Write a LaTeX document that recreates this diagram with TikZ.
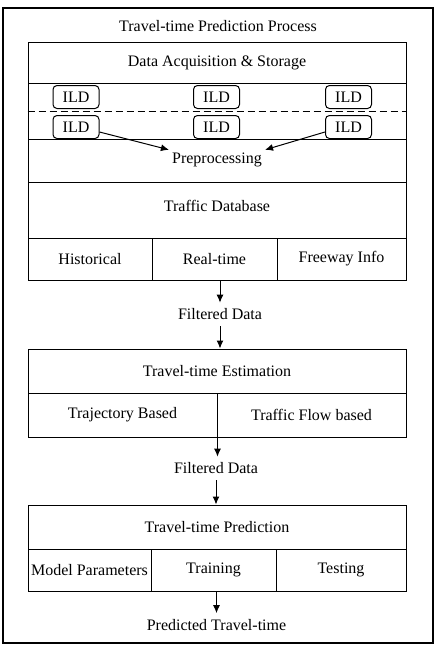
\documentclass[tikz,border=0pt]{standalone}
\usepackage{fontspec}
\setmainfont{Liberation Serif}
\usetikzlibrary{positioning, arrows.meta}

\begin{document}
\begin{tikzpicture}[
    x=1pt, y=-1pt, >={Latex[length=8pt,width=7pt]},
    font=\fontsize{16pt}{19pt}\selectfont,
    every node/.style={inner sep=1pt},
    row/.style={draw, line width=1pt, minimum width=378pt, minimum height=#1},
    cell/.style={draw, line width=1pt, minimum height=42pt, minimum width=#1},
    ild/.style={draw, line width=1pt, rounded corners=4pt, minimum width=46pt, minimum height=23pt},
    txt/.style={inner xsep=3pt, inner ysep=6pt},
    flow/.style={->, line width=1pt}
]
    \useasboundingbox (0,0) rectangle (440,646);
    \draw[line width=1.3pt] (3,8) rectangle (433,643);
    \node (title) at (218,26) {Travel-time Prediction Process};

    % data acquisition and storage
    \node[row=41pt] (acq) at (217,62.5) {Data Acquisition \& Storage};
    \node[row=56pt] (sensors) at (217,111) {};
    \draw[line width=1pt, dash pattern=on 7pt off 4pt] (sensors.west) -- (sensors.east);

    \node[ild] (ild1) at (76,97)    {ILD};
    \node[ild] (ild2) at (216.5,97) {ILD};
    \node[ild] (ild3) at (348.5,97) {ILD};
    \node[ild, below=6pt of ild1] (ild4) {ILD};
    \node[ild, below=6pt of ild2] (ild5) {ILD};
    \node[ild, below=6pt of ild3] (ild6) {ILD};

    \node[row=43pt] (prepbox) at (217,160.5) {};
    \node[inner sep=3pt] (prep) at (217,160) {Preprocessing};
    \draw[flow] (ild4.-12) -- (prep.north west);
    \draw[flow] (ild6.192) -- (prep.north east);

    \node[row=56pt] (db) at (217,210) {};
    \node (dbtext) at (217,205.5) {Traffic Database};

    \node[cell=124pt] (hist) at (90,259)    {Historical};
    \node[cell=125pt] (real) at (214.5,259) {Real-time};
    \node[cell=129pt] (free) at (341.5,259) {Freeway Info};

    \node[txt] (fd1) at (220,314.5) {Filtered Data};
    \draw[flow] (fd1 |- real.south) -- (fd1.north);

    % estimation
    \node[row=44pt] (est) at (217,371) {Travel-time Estimation};
    \draw[flow] (fd1.south) -- (fd1 |- est.north);
    \node[cell=189pt, minimum height=44pt] (traj)  at (122.5,415) {Trajectory Based};
    \node[cell=189pt, minimum height=44pt] (tflow) at (311.5,415) {Traffic Flow based};

    \node[txt] (fd2) at (216,468.5) {Filtered Data};
    \draw[flow] (traj.south east) -- (traj.south east |- fd2.north);

    % prediction
    \node[row=44pt] (pred) at (217,527) {Travel-time Prediction};
    \draw[flow] (fd2.south) -- (fd2 |- pred.north);
    \node[cell=123pt] (model) at (89.5,570)  {Model Parameters};
    \node[cell=125pt] (train) at (213.5,570) {Training};
    \node[cell=130pt] (test)  at (341,570)   {Testing};

    \node[txt] (out) at (216.5,625) {Predicted Travel-time};
    \draw[flow] (out |- train.south) -- (out.north);
\end{tikzpicture}
\end{document}
